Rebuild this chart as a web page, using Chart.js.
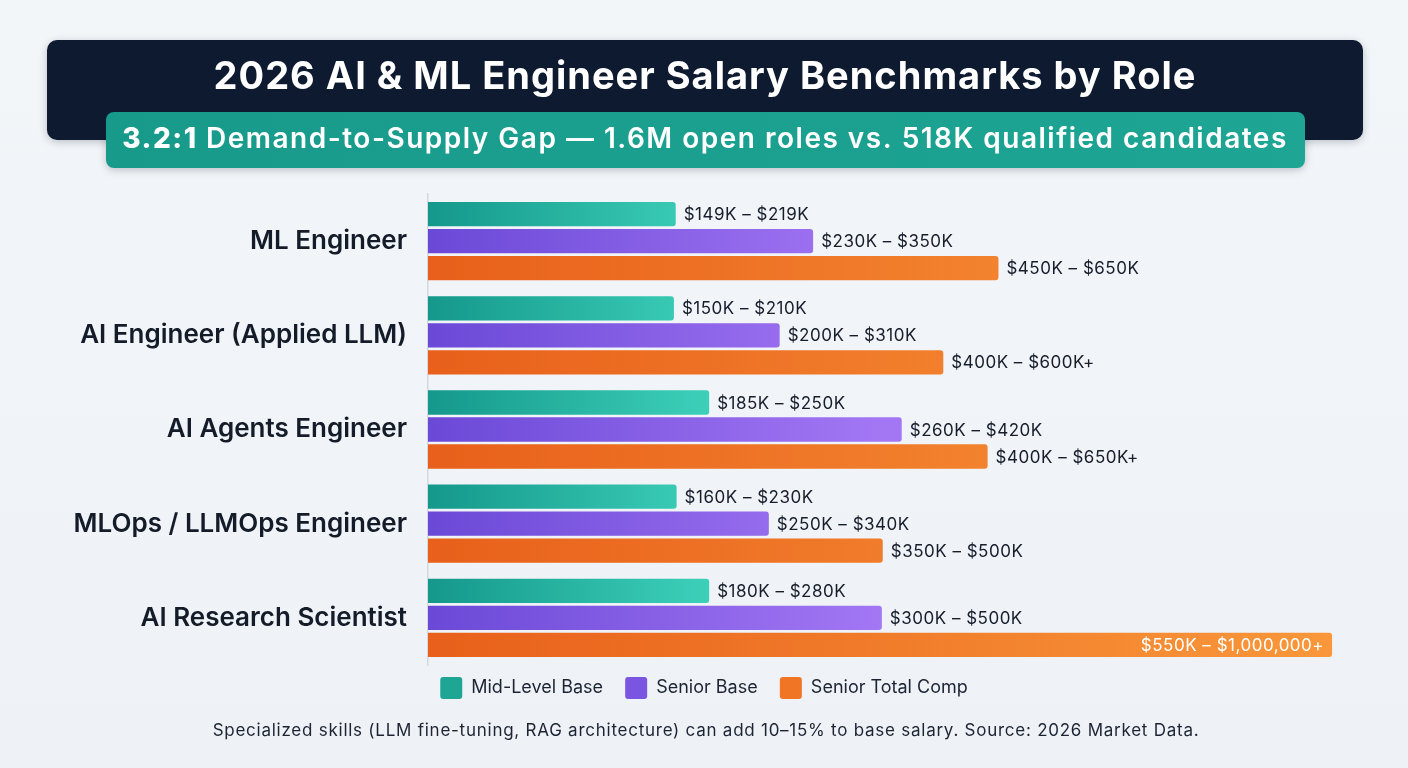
<!DOCTYPE html>
<html>
<head>
<meta charset="utf-8">
<script src="https://cdn.jsdelivr.net/npm/chart.js@4.4.1/dist/chart.umd.min.js"></script>
<style>
  html, body { margin: 0; padding: 0; background: #f1f4f8; }
  canvas { display: block; }
</style>
</head>
<body>
<canvas id="chart" width="1408" height="768"></canvas>
<script>
// roles and salary bands (bar length is the plotted value, in $K)
const roles = ['ML Engineer', 'AI Engineer (Applied LLM)', 'AI Agents Engineer', 'MLOps / LLMOps Engineer', 'AI Research Scientist'];
const seriesNames = ['Mid-Level Base', 'Senior Base', 'Senior Total Comp'];

const midBase = [274, 272, 311, 275, 311];
const seniorBase = [426, 389, 524, 377, 502];
const totalComp = [631, 570, 619, 503, 1000];

const midLabels = ['$149K – $219K', '$150K – $210K', '$185K – $250K', '$160K – $230K', '$180K – $280K'];
const seniorLabels = ['$230K – $350K', '$200K – $310K', '$260K – $420K', '$250K – $340K', '$300K – $500K'];
const totalLabels = ['$450K – $650K', '$400K – $600K+', '$400K – $650K+', '$350K – $500K', '$550K – $1,000,000+'];

const title = '2026 AI & ML Engineer Salary Benchmarks by Role';
const subLead = '3.2:1';
const subRest = ' Demand-to-Supply Gap — 1.6M open roles vs. 518K qualified candidates';
const footnote = 'Specialized skills (LLM fine-tuning, RAG architecture) can add 10–15% to base salary. Source: 2026 Market Data.';

const FONT = 'Inter, "Open Sans", sans-serif';

const palette = [
    { solid: '#1fa593', from: '#14988b', to: '#3dd0b9' },
    { solid: '#7a55e2', from: '#6b49d7', to: '#a377f4' },
    { solid: '#f07626', from: '#e8601b', to: '#f9973a' },
];

function roundRect(ctx, x, y, w, h, r) {
    ctx.beginPath();
    ctx.moveTo(x + r, y);
    ctx.arcTo(x + w, y, x + w, y + h, r);
    ctx.arcTo(x + w, y + h, x, y + h, r);
    ctx.arcTo(x, y + h, x, y, r);
    ctx.arcTo(x, y, x + w, y, r);
    ctx.closePath();
}

const frame = {
    id: 'frame',
    beforeDraw(chart) {
        const ctx = chart.ctx;
        const w = chart.width, h = chart.height;
        ctx.save();
        let bg = ctx.createLinearGradient(0, 0, 0, h);
        bg.addColorStop(0, '#f3f6f9');
        bg.addColorStop(1, '#eef2f6');
        ctx.fillStyle = bg;
        ctx.fillRect(0, 0, w, h);

        // dark title band
        ctx.shadowColor = 'rgba(15,25,45,0.25)';
        ctx.shadowBlur = 8;
        ctx.shadowOffsetY = 2;
        ctx.fillStyle = '#0e1a2f';
        roundRect(ctx, 47, 40, 1316, 100, 10);
        ctx.fill();

        // teal subtitle band
        let tg = ctx.createLinearGradient(106, 0, 1305, 0);
        tg.addColorStop(0, '#189a8b');
        tg.addColorStop(1, '#1ea594');
        ctx.fillStyle = tg;
        roundRect(ctx, 106, 112, 1199, 56, 8);
        ctx.fill();
        ctx.shadowColor = 'transparent';

        ctx.fillStyle = '#ffffff';
        ctx.textBaseline = 'middle';
        ctx.textAlign = 'center';
        ctx.letterSpacing = '1px';
        ctx.font = '700 38px ' + FONT;
        ctx.fillText(title, 705, 78);

        ctx.letterSpacing = '1.5px';
        ctx.font = '800 28px ' + FONT;
        const w1 = ctx.measureText(subLead).width;
        ctx.font = '600 28px ' + FONT;
        const w2 = ctx.measureText(subRest).width;
        let sx = 705 - (w1 + w2) / 2;
        ctx.textAlign = 'left';
        ctx.font = '800 28px ' + FONT;
        ctx.fillText(subLead, sx, 140);
        ctx.font = '600 28px ' + FONT;
        ctx.fillText(subRest, sx + w1, 140);

        ctx.textAlign = 'center';
        ctx.fillStyle = '#1c2433';
        ctx.letterSpacing = '0.75px';
        ctx.font = '400 17px ' + FONT;
        ctx.fillText(footnote, 706, 731);
        ctx.restore();
    },
    beforeDatasetsDraw(chart) {
        const ctx = chart.ctx;
        chart.data.datasets.forEach((ds, i) => {
            chart.getDatasetMeta(i).data.forEach(bar => {
                let g = ctx.createLinearGradient(bar.base, 0, bar.x, 0);
                g.addColorStop(0, palette[i].from);
                g.addColorStop(1, palette[i].to);
                bar.options.backgroundColor = g;
            });
        });
    },
    afterDatasetsDraw(chart) {
        const ctx = chart.ctx;
        const area = chart.chartArea;
        ctx.save();
        ctx.letterSpacing = '0.5px';
        ctx.font = '400 17px ' + FONT;
        ctx.textBaseline = 'middle';
        chart.data.datasets.forEach((ds, i) => {
            chart.getDatasetMeta(i).data.forEach((bar, j) => {
                const txt = ds.rangeLabels[j];
                const tw = ctx.measureText(txt).width;
                if (bar.x + 8 + tw > area.right - 10) {
                    ctx.fillStyle = '#ffffff';
                    ctx.textAlign = 'right';
                    ctx.fillText(txt, bar.x - 8, bar.y + 1);
                } else {
                    ctx.fillStyle = '#161d2b';
                    ctx.textAlign = 'left';
                    ctx.fillText(txt, bar.x + 8, bar.y + 1);
                }
            });
        });
        ctx.restore();
    }
};

const series = [midBase, seniorBase, totalComp];
const labelSets = [midLabels, seniorLabels, totalLabels];

new Chart(document.getElementById('chart'), {
    type: 'bar',
    data: {
        labels: roles,
        datasets: series.map((vals, i) => ({
            label: seriesNames[i],
            data: vals,
            rangeLabels: labelSets[i],
            backgroundColor: palette[i].solid,
            borderWidth: 0,
            borderRadius: { topLeft: 0, bottomLeft: 0, topRight: 3, bottomRight: 3 },
            borderSkipped: false,
            categoryPercentage: 0.86,
            barPercentage: 0.9,
        })),
    },
    options: {
        indexAxis: 'y',
        responsive: false,
        animation: false,
        layout: { padding: { top: 194, left: 0, right: 0, bottom: 59 } },
        scales: {
            x: { display: false, min: 0, max: 1084 },
            y: {
                grid: { display: false, drawTicks: false },
                border: { display: true, color: '#d3d9e1', width: 1.5 },
                ticks: {
                    padding: 21,
                    color: '#141b29',
                    font: { family: FONT, size: 26, weight: '600' },
                },
                afterFit(scale) { scale.width = 428; },
            },
        },
        plugins: {
            legend: {
                position: 'bottom',
                labels: {
                    boxWidth: 22,
                    boxHeight: 22,
                    useBorderRadius: true,
                    borderRadius: 3,
                    padding: 12,
                    color: '#1c2433',
                    font: { family: FONT, size: 18 },
                    generateLabels(chart) {
                        const items = Chart.defaults.plugins.legend.labels.generateLabels(chart);
                        items.forEach((it, k) => { if (k < items.length - 1) it.text = it.text + '  '; });
                        return items;
                    },
                },
            },
            tooltip: { enabled: false },
        },
    },
    plugins: [frame],
});
</script>
</body>
</html>
